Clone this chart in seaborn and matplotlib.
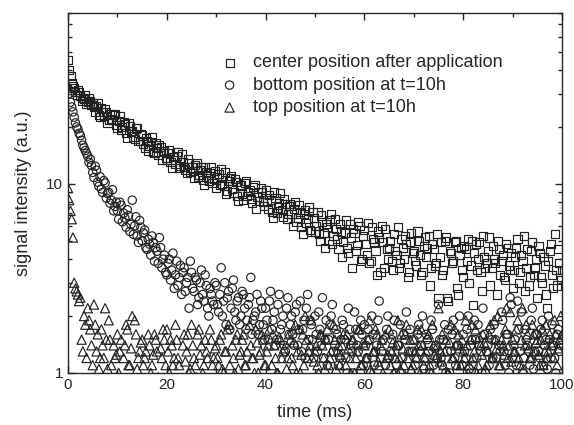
import numpy as np
import pandas as pd
import matplotlib
matplotlib.use("Agg")
import matplotlib.pyplot as plt
import matplotlib.ticker as mticker
import seaborn as sns

# sampling grids (ms): main samples and the interleaved samples between them
time_ms = np.round(np.arange(0, 100.01, 0.5), 2)
time_ms_b = np.round(np.arange(0.25, 100.0, 0.5), 2)

# center position after application (squares)
center = [
    45, 37, 33, 30.5, 31.5, 29, 28.5, 29.5, 27, 27.5,
    26.8, 24.1, 26.8, 22.5, 24.0, 24.8, 20.9, 23.3, 21.8, 23.5,
    19.7, 22.7, 20.0, 20.6, 17.5, 20.3, 19.0, 17.3, 19.8, 16.9,
    18.0, 15.4, 16.9, 15.8, 17.7, 14.6, 15.4, 16.1, 13.3, 14.9,
    13.4, 15.0, 12.1, 13.8, 14.0, 12.1, 14.3, 12.3, 11.4, 12.8,
    12.2, 10.8, 12.9, 11.1, 12.2, 9.9, 11.5, 10.3, 12.2, 10.6,
    9.5, 11.3, 11.9, 9.7, 8.8, 10.3, 11.0, 9.0, 10.2, 8.1,
    9.8, 8.2, 10.4, 9.05, 8.3, 9.6, 7.4, 9.0, 9.5, 8.0,
    9.3, 7.4, 8.2, 6.6, 8.4, 7.5, 8.9, 6.7, 7.8, 6.9,
    7.8, 6.0, 8.0, 6.6, 7.1, 5.4, 7.3, 6.5, 5.7, 7.1,
    5.6, 7.1, 5.0, 6.3, 4.6, 5.9, 6.4, 4.8, 6.5, 5.1,
    6.1, 4.1, 5.5, 4.6, 6.1, 3.6, 5.5, 4.75, 6.0, 4.0,
    5.7, 4.2, 3.8, 5.9, 4.9, 3.3, 5.2, 6.0, 3.6, 4.5,
    4.6, 3.9, 5.4, 4.2, 3.6, 5.1, 4.0, 4.8, 3.4, 5.5,
    4.4, 3.7, 5.0, 3.3, 4.7, 4.1, 5.3, 3.6, 4.5, 3.8,
    2.5, 4.9, 3.5, 5.2, 2.4, 4.3, 3.9, 5.0, 2.6, 4.6,
    3.2, 4.5, 5.1, 3.7, 2.3, 4.8, 4.0, 3.4, 5.3, 3.6,
    4.4, 2.9, 4.7, 3.8, 5.0, 3.3, 4.2, 3.1, 4.6, 3.5,
    2.8, 4.1, 5.1, 3.4, 3.9, 2.7, 4.5, 3.2, 4.9, 3.6,
    2.5, 4.3, 3.0, 3.7, 2.2, 4.4, 3.3, 5.4, 2.9, 3.8,
    3.5,
]
center_b = [
    40, 34, 32, 29.5, 30.5, 27.5, 28, 26.5, 28.5, 26,
    25.5, 25.8, 23.2, 25.2, 22.8, 23.9, 21.7, 22.0, 23.1, 20.5,
    21.6, 19.2, 21.2, 18.6, 20.9, 18.9, 17.8, 19.6, 16.8, 18.4,
    16.3, 17.4, 15.0, 16.6, 14.8, 16.4, 14.2, 15.7, 14.9, 13.7,
    14.6, 13.0, 13.9, 12.7, 14.8, 12.4, 13.0, 11.9, 13.5, 11.6,
    11.7, 12.6, 10.9, 11.8, 10.5, 12.3, 10.7, 11.4, 10.1, 11.7,
    10.8, 9.9, 10.0, 11.5, 9.2, 10.7, 9.4, 10.6, 8.6, 9.9,
    8.8, 10.1, 8.6, 9.3, 7.9, 9.9, 8.5, 8.1, 9.1, 7.6,
    8.0, 8.7, 7.1, 9.0, 7.0, 7.9, 7.3, 8.3, 6.5, 7.6,
    6.9, 7.4, 6.3, 7.7, 5.9, 6.9, 6.2, 7.5, 5.6, 6.6,
    6.0, 5.4, 6.8, 5.5, 6.1, 5.0, 6.9, 5.3, 5.8, 4.5,
    5.6, 4.9, 6.4, 4.3, 5.2, 5.8, 4.4, 6.3, 3.9, 5.3,
    4.8, 6.2, 3.9, 5.1, 4.4, 5.6, 3.4, 4.9, 5.8, 4.0,
    5.0, 3.5, 4.4, 5.9, 3.8, 4.6, 5.3, 3.2, 4.9, 4.3,
    3.9, 5.6, 4.2, 3.4, 5.2, 4.6, 2.9, 4.8, 3.7, 5.4,
    4.1, 3.3, 5.0, 2.5, 4.4, 3.8, 4.9, 2.8, 4.2, 3.5,
    4.7, 3.9, 3.0, 5.0, 4.3, 3.5, 4.9, 2.7, 4.1, 3.8,
    5.2, 3.6, 4.0, 2.6, 4.5, 3.9, 3.2, 4.8, 3.7, 4.3,
    3.5, 4.6, 3.0, 4.2, 5.3, 3.6, 2.9, 4.4, 3.3, 4.0,
    4.7, 3.2, 4.1, 2.6, 3.9, 4.8, 2.8, 3.5, 4.5, 3.1,
]

# bottom position at t=10h (circles)
bottom = [
    32, 27, 24, 21, 19.5, 18, 16, 15, 14, 13.5,
    11.5, 12.4, 10.2, 10.9, 9.0, 10.1, 8.9, 7.9, 9.3, 7.6,
    7.2, 8.0, 6.3, 6.6, 7.3, 5.6, 8.2, 6.0, 5.3, 6.4,
    5.0, 5.7, 4.5, 4.8, 5.3, 3.9, 4.4, 5.2, 3.6, 4.2,
    3.3, 4.0, 3.5, 2.8, 3.9, 3.2, 2.6, 3.6, 3.0, 2.2,
    3.4, 2.7, 3.1, 2.5, 3.5, 2.4, 2.9, 2.0, 2.6, 2.3,
    2.9, 2.1, 3.6, 2.4, 1.8, 2.7, 2.2, 3.1, 1.9, 2.5,
    2.0, 2.6, 1.7, 2.3, 3.2, 1.9, 2.1, 1.6, 2.4, 1.8,
    2.2, 1.5, 2.7, 1.9, 1.4, 2.3, 1.7, 2.0, 1.3, 2.5,
    1.8, 1.6, 2.1, 1.4, 2.4, 1.7, 1.2, 2.6, 1.9, 1.5,
    2.0, 1.3, 1.7, 2.5, 1.5, 1.1, 1.8, 2.3, 1.4, 1.6,
    1.2, 1.9, 1.5, 1.0, 1.7, 1.3, 2.1, 1.4, 0.9, 1.6,
    1.8, 1.2, 1.5, 2.0, 1.1, 1.4, 2.4, 1.3, 0.95, 1.7,
    1.2, 1.5, 1.9, 1.1, 1.4, 1.0, 1.6, 2.1, 1.3, 0.9,
    1.5, 1.2, 1.8, 1.4, 1.05, 1.6, 1.3, 1.9, 1.1, 1.4,
    2.3, 1.2, 1.5, 1.0, 1.7, 1.3, 1.9, 1.1, 1.4, 0.9,
    1.6, 1.2, 2.0, 1.4, 1.1, 1.5, 1.8, 1.3, 2.2, 1.0,
    1.4, 1.7, 1.2, 1.5, 0.95, 1.3, 1.9, 1.1, 1.6, 2.5,
    1.2, 1.5, 2.4, 1.3, 1.0, 1.7, 1.4, 1.1, 2.2, 1.3,
    1.6, 1.2, 1.9, 1.4, 1.05, 1.5, 1.8, 1.2, 1.6, 1.3,
    1.5,
]
bottom_b = [
    30, 25.5, 22.5, 20, 18.5, 17, 15.5, 14.5, 13, 12.5,
    10.8, 11.8, 9.7, 9.4, 10.4, 8.4, 9.0, 8.2, 7.2, 8.0,
    6.5, 7.7, 7.0, 5.9, 6.8, 6.1, 5.4, 6.7, 4.9, 5.9,
    5.5, 4.6, 5.1, 4.2, 4.9, 4.6, 3.8, 4.6, 4.0, 3.4,
    3.8, 3.1, 4.3, 3.3, 2.9, 3.7, 3.4, 2.7, 3.2, 3.9,
    2.8, 3.2, 2.3, 3.0, 2.6, 3.3, 2.2, 2.8, 2.4, 3.0,
    2.3, 2.6, 2.0, 3.0, 2.5, 1.7, 2.8, 2.1, 2.4, 1.8,
    2.7, 2.2, 1.9, 2.5, 1.6, 2.0, 2.6, 1.8, 2.2, 1.5,
    1.9, 2.4, 1.7, 2.1, 1.5, 2.6, 1.8, 1.4, 2.2, 1.6,
    2.0, 1.4, 2.3, 1.7, 1.3, 1.9, 2.2, 1.5, 1.8, 1.2,
    1.6, 2.1, 1.4, 1.2, 1.9, 1.5, 2.0, 1.3, 1.7, 1.1,
    1.5, 1.8, 1.2, 2.2, 1.4, 1.0, 1.7, 1.3, 1.9, 1.1,
    1.4, 1.7, 1.0, 1.6, 1.3, 1.9, 1.2, 1.5, 1.1, 2.0,
    1.3, 1.6, 1.0, 1.4, 1.8, 1.2, 1.5, 0.95, 1.7, 1.3,
    1.1, 1.6, 1.3, 2.0, 1.2, 1.5, 1.0, 1.7, 1.35, 1.2,
    1.5, 1.1, 1.8, 1.3, 1.0, 1.6, 1.2, 1.4, 2.0, 1.1,
    1.3, 1.7, 1.05, 1.5, 1.9, 1.2, 1.4, 1.0, 1.6, 1.3,
    1.1, 1.5, 1.8, 1.2, 1.4, 2.1, 1.3, 1.6, 1.0, 2.3,
    1.4, 1.1, 1.7, 2.1, 1.2, 1.5, 1.3, 1.9, 1.05, 1.6,
    1.3, 1.7, 1.1, 1.5, 2.0, 1.2, 1.4, 1.0, 1.7, 1.4,
]

# top position at t=10h (triangles)
top = [
    9.5, 7.2, 5.2, 2.8, 2.6, 2.5, 1.3, 1.8, 2.2, 1.7,
    1.1, 1.8, 1.6, 1.2, 1.4, 2.2, 1.05, 1.5, 0.9, 1.2,
    1.6, 1.3, 0.8, 1.4, 1.7, 1.1, 2.0, 1.9, 1.05, 1.3,
    1.5, 1.2, 0.9, 1.4, 1.1, 1.6, 1.3, 0.85, 1.2, 1.5,
    1.7, 1.0, 1.4, 1.2, 1.5, 1.1, 0.9, 1.6, 1.3, 1.0,
    1.8, 1.2, 0.95, 1.7, 1.4, 1.1, 1.3, 0.9, 1.5, 1.2,
    1.4, 1.1, 1.6, 1.0, 1.3, 1.8, 0.9, 1.2, 1.5, 1.05,
    1.3, 1.6, 1.1, 0.9, 1.4, 1.2, 1.7, 1.0, 1.3, 1.5,
    1.1, 1.4, 0.85, 1.6, 1.2, 1.0, 1.5, 1.3, 0.9, 1.2,
    1.5, 1.1, 1.8, 1.3, 1.0, 1.6, 2.0, 1.2, 1.4, 0.9,
    1.3, 1.1, 1.6, 1.4, 1.05, 1.7, 1.2, 0.95, 1.5, 1.3,
    1.1, 1.4, 0.9, 1.6, 1.2, 1.5, 1.0, 1.3, 1.7, 1.1,
    1.4, 1.2, 1.9, 1.0, 1.3, 1.6, 1.1, 1.5, 0.9, 1.2,
    1.7, 1.3, 1.0, 1.4, 1.2, 1.6, 1.1, 1.8, 1.3, 1.05,
    1.5, 1.2, 1.4, 1.7, 1.1, 1.3, 1.6, 1.0, 1.4, 1.2,
    2.2, 1.3, 1.1, 1.5, 1.0, 1.8, 1.2, 1.4, 1.6, 1.1,
    1.3, 1.9, 1.0, 1.5, 1.2, 1.7, 1.1, 1.4, 1.6, 1.05,
    1.3, 1.8, 1.2, 1.5, 2.0, 1.1, 1.4, 1.7, 1.2, 2.1,
    1.5, 1.3, 1.9, 1.1, 2.2, 1.4, 1.6, 1.2, 1.8, 1.3,
    1.5, 1.1, 1.7, 1.3, 1.2, 1.6, 1.4, 1.9, 1.1, 1.5,
    1.6,
]
top_b = [
    8.2, 6.5, 3.0, 2.7, 2.4, 1.5, 2.0, 1.2, 1.9, 1.4,
    2.3, 1.3, 1.05, 1.7, 1.2, 1.5, 1.9, 1.1, 1.4, 1.25,
    1.0, 1.5, 1.2, 1.8, 1.1, 1.35, 0.9, 1.6, 1.2, 1.45,
    1.1, 1.3, 1.6, 1.0, 1.25, 1.5, 0.95, 1.35, 1.7, 1.1,
    1.3, 1.5, 1.1, 1.8, 1.2, 0.9, 1.4, 1.15, 1.6, 1.05,
    1.4, 1.1, 1.6, 1.25, 1.0, 1.5, 1.2, 1.7, 1.1, 1.35,
    1.2, 1.5, 1.05, 1.3, 1.7, 1.1, 1.4, 1.0, 1.6, 1.25,
    1.5, 1.1, 1.3, 1.8, 1.2, 1.0, 1.45, 1.25, 1.6, 1.1,
    1.3, 1.7, 1.1, 1.4, 1.0, 1.55, 1.2, 1.35, 1.05, 1.6,
    1.2, 1.45, 1.0, 1.7, 1.25, 1.1, 1.5, 1.3, 1.9, 1.15,
    1.4, 1.0, 1.6, 1.2, 1.5, 1.1, 1.3, 1.8, 1.05, 1.4,
    1.25, 1.6, 1.1, 1.35, 1.0, 1.5, 1.2, 1.7, 1.1, 1.45,
    1.2, 1.5, 1.05, 1.3, 1.7, 1.15, 1.4, 1.0, 1.6, 1.25,
    1.1, 1.45, 1.2, 1.9, 1.05, 1.35, 1.6, 1.2, 1.5, 1.1,
    1.3, 1.7, 1.0, 1.4, 1.2, 1.55, 1.1, 1.8, 1.25, 1.4,
    1.15, 1.6, 1.3, 1.0, 1.45, 1.2, 1.7, 1.1, 1.35, 1.5,
    1.2, 1.4, 1.1, 1.8, 1.3, 1.0, 1.55, 1.25, 1.45, 1.1,
    1.6, 1.2, 1.9, 1.35, 1.1, 1.5, 1.25, 2.2, 1.4, 1.15,
    1.3, 1.7, 1.2, 1.5, 1.05, 1.8, 1.35, 1.2, 1.6, 1.45,
    1.25, 1.5, 1.1, 1.8, 1.3, 1.45, 1.2, 1.6, 1.35, 2.0,
]

labels = ["center position after application", "bottom position at t=10h", "top position at t=10h"]
markers = ["s", "o", "^"]
sizes = [34, 36, 44]

sns.set_style("ticks")
plt.rcParams["font.family"] = ["Liberation Sans", "DejaVu Sans"]

fig = plt.figure(figsize=(5.74, 4.25), dpi=100)
ax = fig.add_axes([0.1185, 0.1224, 0.8606, 0.847])

series = [(center, center_b), (bottom, bottom_b), (top, top_b)]
for (vals, vals_b), lab, mk, sz in zip(series, labels, markers, sizes):
    df = pd.concat([pd.DataFrame({"time": time_ms, "signal": vals}),
                    pd.DataFrame({"time": time_ms_b, "signal": vals_b})]).sort_values("time")
    sns.scatterplot(data=df, x="time", y="signal", marker=mk, s=sz, ax=ax,
                    facecolor="none", edgecolor="#222222", linewidth=0.85,
                    label=lab, clip_on=True)

ax.set_yscale("log")
ax.set_xlim(0, 100)
ax.set_ylim(1, 80)
ax.xaxis.set_major_locator(mticker.MultipleLocator(20))
ax.xaxis.set_minor_locator(mticker.MultipleLocator(10))
ax.yaxis.set_major_locator(mticker.FixedLocator([1, 10]))
ax.yaxis.set_major_formatter(mticker.FixedFormatter(["1", "10"]))
ax.yaxis.set_minor_locator(mticker.LogLocator(base=10, subs=np.arange(2, 10)))
ax.yaxis.set_minor_formatter(mticker.NullFormatter())
ax.tick_params(which="both", direction="in", top=True, right=True, labelsize=11, width=1)
ax.tick_params(which="major", length=5)
ax.tick_params(which="minor", length=3)
for sp in ax.spines.values():
    sp.set_linewidth(1)
    sp.set_visible(True)

ax.set_xlabel("time (ms)", fontsize=13, labelpad=9)
ax.set_ylabel("signal intensity (a.u.)", fontsize=13, labelpad=10)

ax.legend(loc="upper left", bbox_to_anchor=(0.285, 0.905), frameon=False, fontsize=13,
          handletextpad=0.55, labelspacing=0.3, borderaxespad=0, handlelength=1.5,
          markerscale=1.0)

fig.savefig("out.png", dpi=100)
